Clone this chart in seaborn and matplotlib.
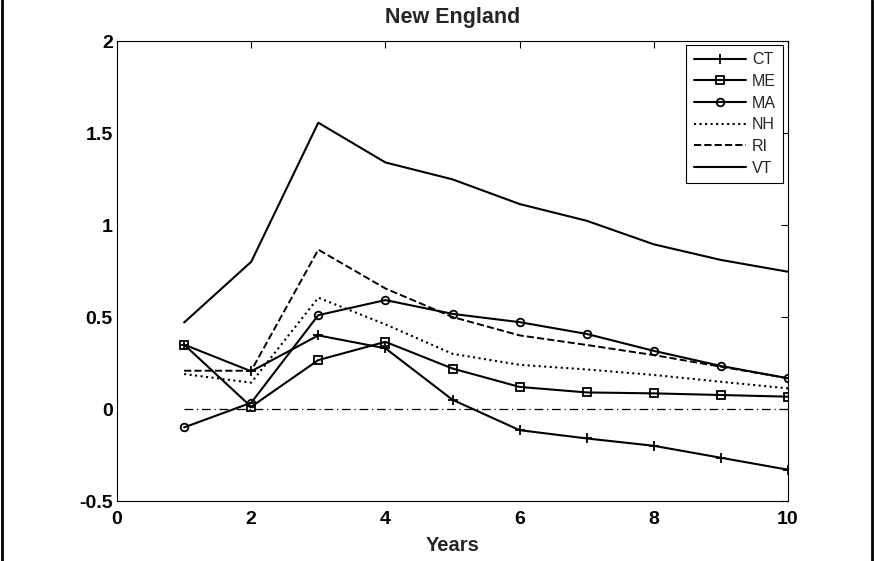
import matplotlib
matplotlib.use("Agg")
import matplotlib.pyplot as plt
from matplotlib.lines import Line2D
import seaborn as sns
import pandas as pd

years = [1, 2, 3, 4, 5, 6, 7, 8, 9, 10]
CT = [0.35, 0.205, 0.40, 0.33, 0.05, -0.115, -0.16, -0.20, -0.265, -0.33]
ME = [0.35, 0.012, 0.266, 0.365, 0.22, 0.12, 0.09, 0.085, 0.076, 0.067]
MA = [-0.10, 0.034, 0.51, 0.592, 0.517, 0.472, 0.408, 0.316, 0.234, 0.167]
NH = [0.19, 0.143, 0.605, 0.46, 0.30, 0.24, 0.215, 0.185, 0.148, 0.112]
RI = [0.208, 0.208, 0.866, 0.655, 0.50, 0.40, 0.348, 0.293, 0.23, 0.167]
VT = [0.47, 0.80, 1.556, 1.34, 1.248, 1.114, 1.023, 0.895, 0.81, 0.746]
zero_ref = [0, 0, 0, 0, 0, 0, 0, 0, 0, 0]
x_ticks = [0, 2, 4, 6, 8, 10]
y_ticks = [-0.5, 0, 0.5, 1, 1.5, 2]
y_tick_labels = ["-0.5", "0", "0.5", "1", "1.5", "2"]

sns.set_style("white")
plt.rcParams['font.family'] = ['Liberation Sans', 'DejaVu Sans']

fig = plt.figure(figsize=(8.74, 5.61), dpi=100)
ax = fig.add_axes([117/874, 60/561, 671/874, 460/561])

styles = [
    ("CT", CT, dict(linestyle='-', marker='+', markersize=7.5, linewidth=1.5)),
    ("ME", ME, dict(linestyle='-', marker='s', markersize=6, linewidth=1.5)),
    ("MA", MA, dict(linestyle='-', marker='o', markersize=5.5, linewidth=1.5)),
    ("NH", NH, dict(linestyle=':', linewidth=1.5)),
    ("RI", RI, dict(linestyle='--', linewidth=1.4, dashes=(4, 2.5))),
    ("VT", VT, dict(linestyle='-', linewidth=1.5)),
]
for name, vals, kw in styles:
    df = pd.DataFrame({"Years": years, "v": vals})
    sns.lineplot(data=df, x="Years", y="v", ax=ax, color='black', label=name,
                 markerfacecolor='none', markeredgecolor='black', markeredgewidth=1.3, **kw)

dfz = pd.DataFrame({"Years": years, "v": zero_ref})
ax.plot(dfz["Years"], dfz["v"], color='black', linestyle='-.', linewidth=0.9, dashes=(7, 3, 1, 3))

ax.set_xlim(0, 10)
ax.set_ylim(-0.5, 2)
ax.set_xticks(x_ticks)
ax.set_xticklabels([str(t) for t in x_ticks], fontsize=14, fontweight='bold')
ax.set_yticks(y_ticks)
ax.set_yticklabels(y_tick_labels, fontsize=14, fontweight='bold')
ax.tick_params(direction='in', length=5, width=0.8, top=True, right=True, pad=3, colors='black')
ax.tick_params(axis='x', pad=7)
for s in ax.spines.values():
    s.set_visible(True)
    s.set_color('black')
    s.set_linewidth(0.8)

ax.set_xlabel("Years", fontsize=14.5, fontweight='bold', labelpad=6)
ax.set_ylabel("")
ax.set_title("New England", fontsize=15.5, fontweight='bold', pad=13)

leg = ax.legend(loc='upper right', bbox_to_anchor=((783-117)/671, (501-45)/460), fontsize=11.5,
                frameon=True, fancybox=False, edgecolor='black', framealpha=1,
                handlelength=3.3, handletextpad=0.35, borderpad=0.45, labelspacing=0.42,
                borderaxespad=0)
leg.get_frame().set_linewidth(0.8)

fig.add_artist(Line2D([0.0025, 0.0025], [0, 1], transform=fig.transFigure, color='black', lw=2))
fig.add_artist(Line2D([0.9975, 0.9975], [0, 1], transform=fig.transFigure, color='black', lw=2))

fig.savefig("out.png", dpi=100)
